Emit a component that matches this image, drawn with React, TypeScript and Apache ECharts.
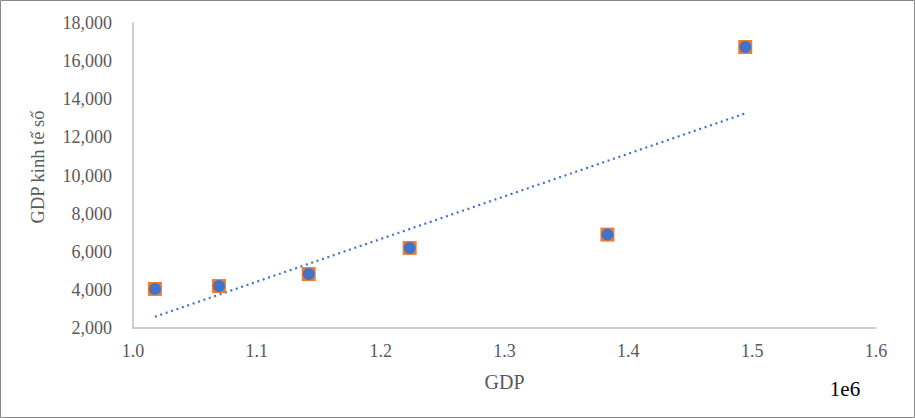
import React, { useEffect, useRef } from "react";
import * as echarts from "echarts";

const gdp = [1017700, 1069400, 1141900, 1223400, 1383100, 1494400];
const gdpDigital = [4050, 4200, 4830, 6200, 6900, 16740];
const xTicks = { min: 1000000, max: 1600000, interval: 100000 };
const yTicks = { min: 2000, max: 18000, interval: 2000 };

function regression(xs: number[], ys: number[]) {
  const n = xs.length;
  const mx = xs.reduce((a, b) => a + b, 0) / n;
  const my = ys.reduce((a, b) => a + b, 0) / n;
  let sxy = 0, sxx = 0;
  for (let i = 0; i < n; i++) {
    sxy += (xs[i] - mx) * (ys[i] - my);
    sxx += (xs[i] - mx) ** 2;
  }
  const slope = sxy / sxx;
  return (x: number) => my + slope * (x - mx);
}

export default function App() {
  const ref = useRef<HTMLDivElement>(null);
  useEffect(() => {
    document.body.style.margin = "0";
    const chart = echarts.init(ref.current!, null, { renderer: "svg" });
    const f = regression(gdp, gdpDigital);
    const xMin = Math.min(...gdp);
    const xMax = Math.max(...gdp);
    const pts = gdp.map((x, i) => [x, gdpDigital[i]]);
    const font = "Liberation Serif";
    chart.setOption({
      animation: false,
      textStyle: { fontFamily: font },
      grid: { left: 133, right: 39, top: 23, bottom: 90, containLabel: false },
      graphic: [
        {
          type: "rect",
          shape: { x: 0.5, y: 0.5, width: 914, height: 417 },
          style: { fill: "none", stroke: "#898989", lineWidth: 1 },
          silent: true,
        },
        {
          type: "text",
          x: 845,
          y: 389,
          style: {
            text: "1e6",
            font: "21px 'Liberation Serif'",
            fontFamily: font,
            fontSize: 21,
            fill: "#000000",
            align: "center",
            verticalAlign: "middle",
          },
        },
      ],
      xAxis: {
        type: "value",
        min: xTicks.min,
        max: xTicks.max,
        interval: xTicks.interval,
        name: "GDP",
        nameLocation: "middle",
        nameGap: 44,
        nameTextStyle: { fontFamily: font, fontSize: 20, color: "#595959" },
        axisLine: { show: true, lineStyle: { color: "#bfbfbf", width: 1.5 } },
        axisTick: { show: false },
        splitLine: { show: false },
        axisLabel: {
          margin: 14,
          fontFamily: font,
          fontSize: 18,
          color: "#595959",
          formatter: (v: number) => (v / 1e6).toFixed(1),
        },
      },
      yAxis: {
        type: "value",
        min: yTicks.min,
        max: yTicks.max,
        interval: yTicks.interval,
        name: "GDP kinh tế số",
        nameLocation: "middle",
        nameGap: 86,
        nameTextStyle: {
          fontFamily: font,
          fontSize: 18.5,
          color: "#595959",
          padding: [0, 0, 0, 17],
        },
        axisLine: { show: true, lineStyle: { color: "#bfbfbf", width: 1.5 } },
        axisTick: { show: false },
        splitLine: { show: false },
        axisLabel: {
          margin: 21,
          fontFamily: font,
          fontSize: 18,
          color: "#595959",
          formatter: (v: number) => v.toLocaleString("en-US"),
        },
      },
      series: [
        {
          type: "line",
          data: [
            [xMin, f(xMin)],
            [xMax, f(xMax)],
          ],
          showSymbol: false,
          symbol: "none",
          lineStyle: { color: "#4472C4", width: 2.2, type: [2, 3.7] },
          z: 1,
        },
        {
          type: "scatter",
          data: pts,
          symbol: "rect",
          symbolSize: 14,
          itemStyle: { color: "#ED7D31", opacity: 1 },
          z: 2,
        },
        {
          type: "scatter",
          data: pts,
          symbol: "circle",
          symbolSize: 12,
          itemStyle: { color: "#4472C4", opacity: 1 },
          z: 3,
        },
      ],
    });
    return () => chart.dispose();
  }, []);
  return <div ref={ref} style={{ width: 915, height: 418 }} />;
}
